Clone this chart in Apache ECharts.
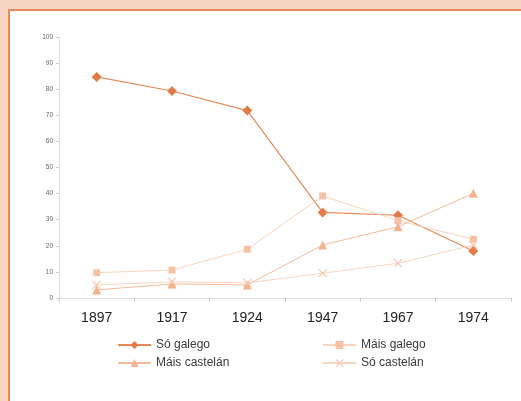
<!DOCTYPE html>
<html lang="gl">
<head>
    <meta charset="UTF-8">
    <title>Lingua habitual</title>
    <script src="https://cdnjs.cloudflare.com/ajax/libs/echarts/6.0.0/echarts.min.js"></script>
    <style>
        html, body { margin: 0; padding: 0; background: #f6d6c3; }
        #panel {
            position: absolute; left: 8px; top: 9px; width: 520px; height: 400px;
            background: #ffffff; border-left: 2px solid #ea8a5c; border-top: 2px solid #ea8a5c;
        }
        #myChart { position: absolute; left: 0; top: 0; width: 521px; height: 401px; }
    </style>
</head>
<body>
    <div id="panel"></div>
    <div id="myChart"></div>

    <script>
        const years = ['1897', '1917', '1924', '1947', '1967', '1974'];
        const soGalego = [84.7, 79.3, 71.8, 32.8, 31.7, 18];
        const maisGalego = [9.7, 10.7, 18.7, 39.1, 29.6, 22.5];
        const maisCastelan = [3.1, 5.4, 5.0, 20.3, 27.3, 40.1];
        const soCastelan = [5.0, 6.2, 5.8, 9.5, 13.3, 20.3];

        const crossPath = 'path://M1,0 L5,4 L9,0 L10,1 L6,5 L10,9 L9,10 L5,6 L1,10 L0,9 L4,5 L0,1 Z';

        const chart = echarts.init(document.getElementById('myChart'));
        const option = {
            animation: false,
            textStyle: { fontFamily: 'Liberation Sans, Arial, sans-serif' },
            grid: { left: 59, right: 10, top: 37, bottom: 103 },
            legend: [
                {
                    orient: 'vertical', left: 117, top: 339, padding: 0,
                    itemWidth: 33, itemHeight: 10, itemGap: 6,
                    textStyle: { fontSize: 12, color: '#3a3a3a' },
                    data: ['Só galego', 'Máis castelán']
                },
                {
                    orient: 'vertical', left: 322, top: 339, padding: 0,
                    itemWidth: 33, itemHeight: 10, itemGap: 6,
                    textStyle: { fontSize: 12, color: '#3a3a3a' },
                    data: ['Máis galego', 'Só castelán']
                }
            ],
            xAxis: {
                type: 'category',
                data: years,
                axisLine: { lineStyle: { color: '#dddddd' } },
                axisTick: { show: true, length: 4, lineStyle: { color: '#cccccc' } },
                axisLabel: { fontSize: 14, color: '#222', margin: 13 }
            },
            yAxis: {
                type: 'value',
                min: 0, max: 100, interval: 10,
                splitLine: { show: false },
                axisLine: { show: true, lineStyle: { color: '#dddddd' } },
                axisTick: { show: true, length: 3, lineStyle: { color: '#cccccc' } },
                axisLabel: { fontSize: 6.5, color: '#666', margin: 6 }
            },
            series: [
                {
                    name: 'Só galego', type: 'line', data: soGalego,
                    symbol: 'diamond', symbolSize: 10,
                    itemStyle: { color: '#e27b48' },
                    lineStyle: { color: '#e8895a', width: 1.2 }
                },
                {
                    name: 'Máis galego', type: 'line', data: maisGalego,
                    symbol: 'rect', symbolSize: 7,
                    itemStyle: { color: '#f5c2a5' },
                    lineStyle: { color: '#f8d4bf', width: 1 }
                },
                {
                    name: 'Máis castelán', type: 'line', data: maisCastelan,
                    symbol: 'triangle', symbolSize: 9,
                    itemStyle: { color: '#f3b390' },
                    lineStyle: { color: '#f5bc9c', width: 1 }
                },
                {
                    name: 'Só castelán', type: 'line', data: soCastelan,
                    symbol: crossPath, symbolSize: 9,
                    itemStyle: { color: '#f7cbb2' },
                    lineStyle: { color: '#f9d6c2', width: 1 }
                }
            ]
        };
        chart.setOption(option);
    </script>
</body>
</html>
